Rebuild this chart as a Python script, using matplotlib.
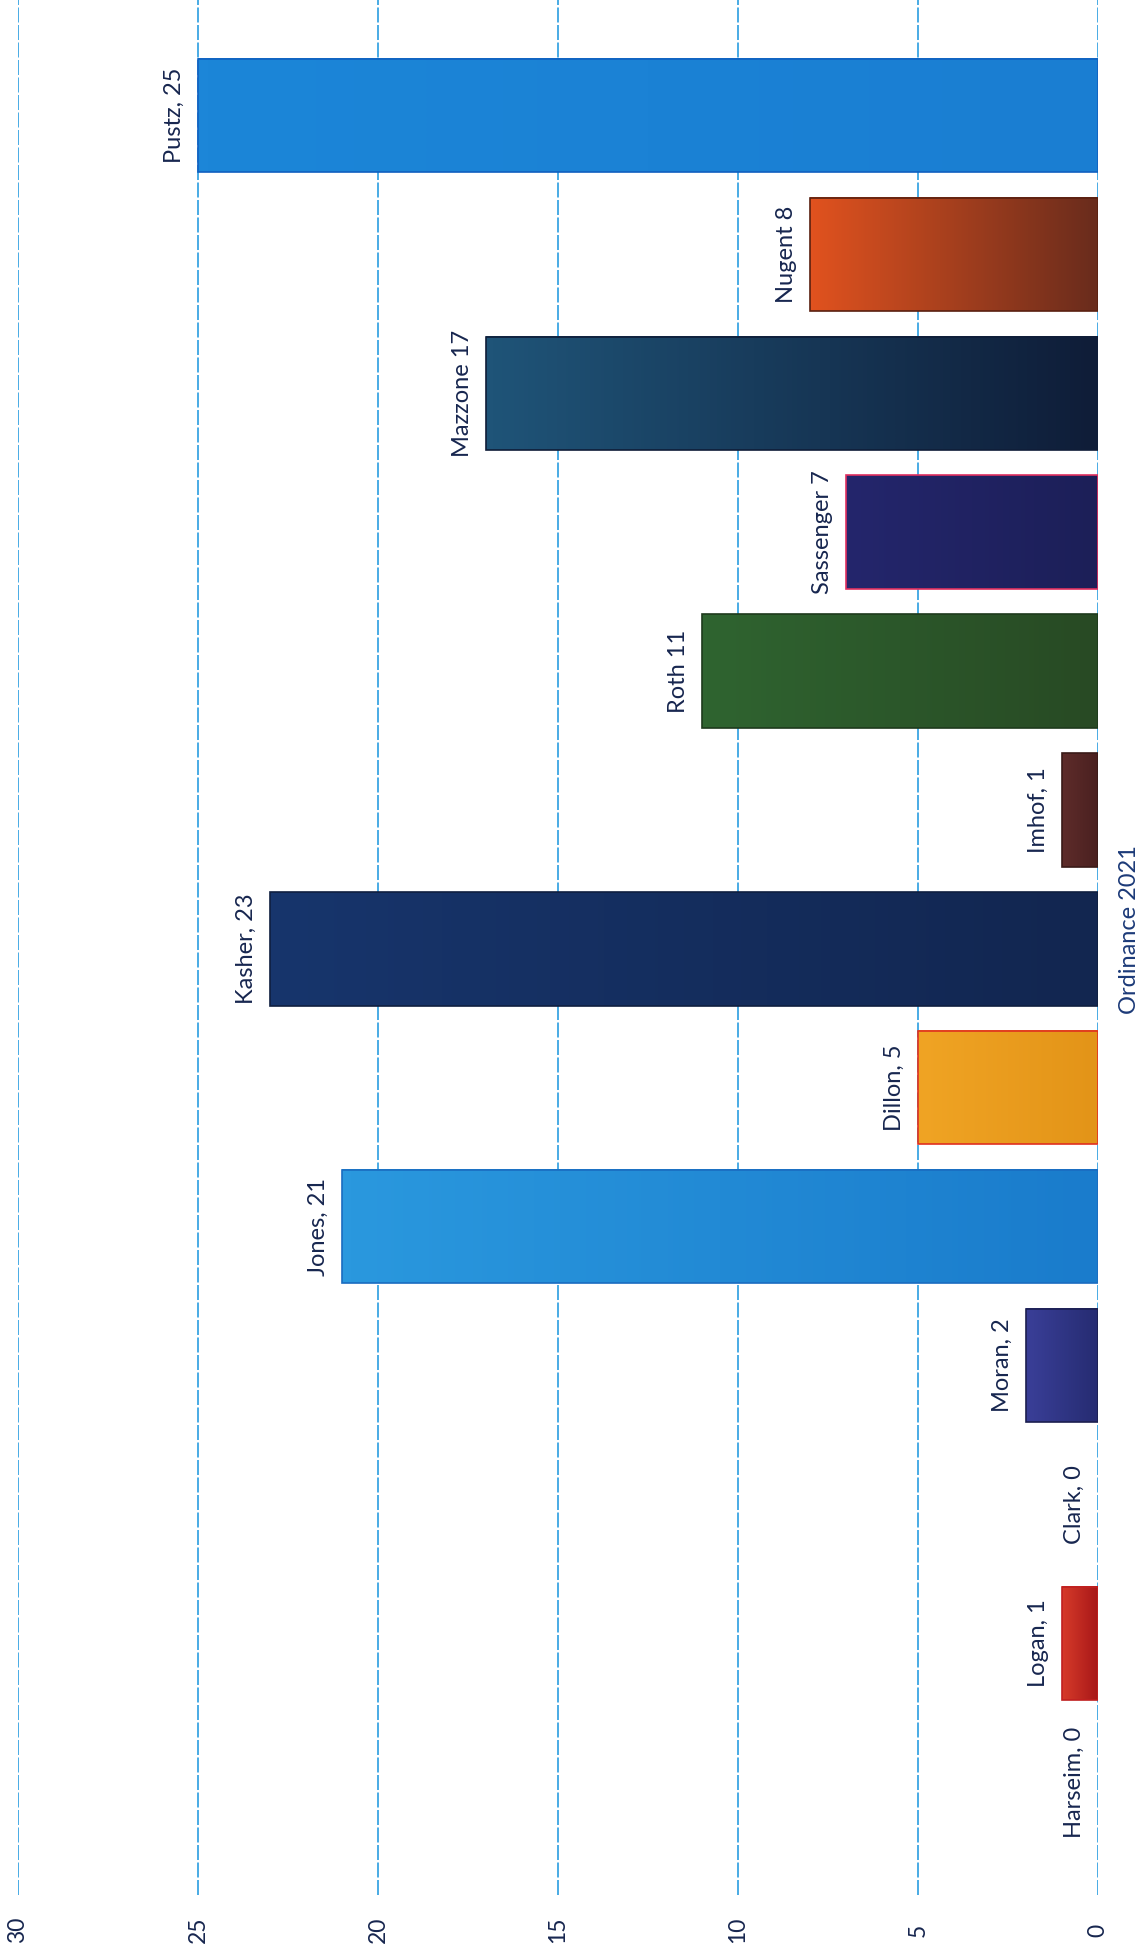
import numpy as np
import matplotlib
matplotlib.use('Agg')
import matplotlib.pyplot as plt
from matplotlib.colors import LinearSegmentedColormap

plt.rcParams['font.family'] = ['Lato', 'DejaVu Sans']

# data, bottom to top as it appears in the (rotated) scan
names = ['Harseim', 'Logan', 'Clark', 'Moran', 'Jones', 'Dillon', 'Kasher',
         'Imhof', 'Roth', 'Sassenger', 'Mazzone', 'Nugent', 'Pustz']
votes = [0, 1, 0, 2, 21, 5, 23, 1, 11, 7, 17, 8, 25]
labels = ['Harseim, 0', 'Logan, 1', 'Clark, 0', 'Moran, 2', 'Jones, 21', 'Dillon, 5',
          'Kasher, 23', 'Imhof, 1', 'Roth 11', 'Sassenger 7', 'Mazzone 17',
          'Nugent 8', 'Pustz, 25']
ticks = [0, 5, 10, 15, 20, 25, 30]
title = 'Ordinance 2021'

# gradient colours: (value end, zero end)
shades = [('#d43030', '#b01c1c'), ('#d63a2a', '#a81818'), ('#d43030', '#b01c1c'),
          ('#3a3f98', '#262c72'), ('#2a98de', '#1a7ccc'), ('#f0a424', '#e39418'),
          ('#17356c', '#122650'), ('#5e2c2a', '#4a2020'), ('#2f6430', '#284a24'),
          ('#24266c', '#1c1f58'), ('#1f5478', '#0f1d38'), ('#e0521f', '#6a2c1c'),
          ('#1c86d8', '#1a7ed2')]
edges = ['#c02020', '#c02020', '#c02020', '#1c1f50', '#1a6cc0', '#e03020',
         '#0f1f40', '#3a1a18', '#1e3a1c', '#e03060', '#0f1d38', '#5a2010', '#1060c0']

W, H = 1141, 1957
fig = plt.figure(figsize=(W / 100, H / 100), dpi=100)
ax = fig.add_axes([18 / W, (H - 1895) / H, (1098 - 18) / W, 1895 / H])

ypos = np.arange(len(names))
bh = 0.815

for x in ticks:
    ax.axvline(x, color='#2a9de0', lw=1.2, ls=(0, (9, 1.5)), zorder=0)

for i, v in enumerate(votes):
    if v > 0:
        cm = LinearSegmentedColormap.from_list('g', [shades[i][0], shades[i][1]])
        grad = np.linspace(0, 1, 64).reshape(1, -1)
        ax.imshow(grad, cmap=cm, aspect='auto', interpolation='bilinear',
                  extent=(v, 0, ypos[i] - bh / 2, ypos[i] + bh / 2), zorder=2)
        ax.barh(ypos[i], v, height=bh, facecolor='none', edgecolor=edges[i],
                lw=1.2, zorder=3)
    ax.annotate(labels[i], xy=(v, ypos[i]), xytext=(-17, 0), textcoords='offset points',
                rotation=90, ha='center', va='center', fontsize=17, color='#17264f')

ax.set_xlim(30, 0)
ax.set_ylim(-0.81, 12.83)
for spine in ax.spines.values():
    spine.set_visible(False)
ax.set_xticks([])
ax.set_yticks([])

for x in ticks:
    ax.text(x, -0.81 - 35 / 138.9, str(x), rotation=90, ha='center', va='center',
            fontsize=16.5, color='#17264f')

fig.text(1130 / W, 1 - 930 / H, title, rotation=90, ha='center', va='center',
         fontsize=17, color='#1c3a78')

fig.savefig('out.png', dpi=100)
